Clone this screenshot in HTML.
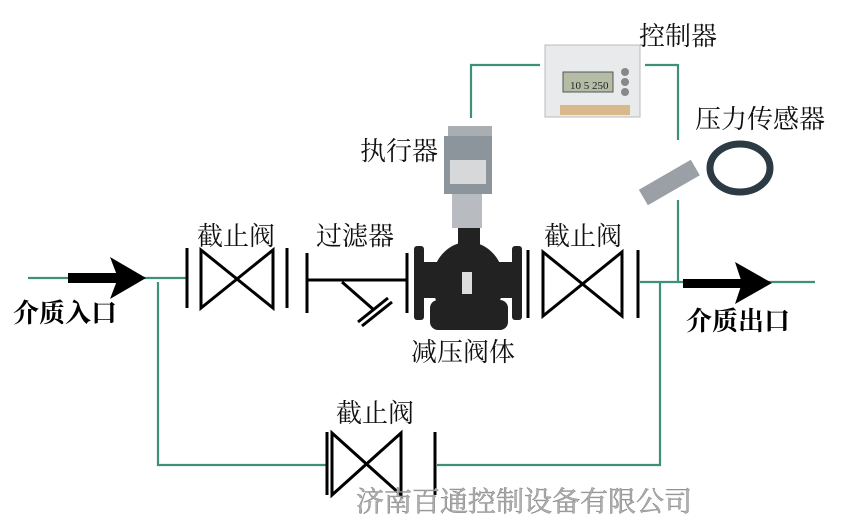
<!DOCTYPE html>
<html><head><meta charset="utf-8"><style>
body{margin:0;background:#fff;width:860px;height:524px;overflow:hidden}
svg text{font-family:"Liberation Serif","Noto Serif CJK SC",serif}
</style></head><body>
<svg width="860" height="524" viewBox="0 0 860 524" xmlns="http://www.w3.org/2000/svg">
<g stroke="#3f8f7a" stroke-width="2.2" fill="none">
<path d="M28 278 H187"/>
<path d="M158 282 V465 H327"/>
<path d="M437 465 H660 V282"/>
<path d="M640 282 H815"/>
<path d="M678 200 V282"/>
<path d="M678 140 V65 H645"/>
<path d="M471 118 V65 H540"/>
</g>
<rect x="68" y="273" width="50" height="10" fill="#000"/>
<polygon points="110,257 146,278 110,299 118,278" fill="#000"/>
<rect x="683" y="279" width="60" height="9" fill="#000"/>
<polygon points="735,262 772,283 735,304 742,283" fill="#000"/>
<g stroke="#000" stroke-width="3" fill="none">
<path d="M187 248 V308 M287 248 V308"/>
<path d="M201 250 L273 308 V250 L201 308 Z"/>
<path d="M307 253 V313 M407 253 V313 M307 280 H407 M342 282 L374 310"/>
<path d="M358 322 L388 298 M362 326 L392 302"/>
<path d="M528 250 V318 M638 250 V318"/>
<path d="M543 252 L622 316 V252 L543 316 Z"/>
<path d="M327 432 V495 M435 432 V495"/>
<path d="M332 433 L401 495 V433 L332 495 Z"/>
</g>
<g fill="#222">
<rect x="414" y="246" width="10" height="74" rx="3"/>
<rect x="512" y="246" width="10" height="74" rx="3"/>
<rect x="420" y="262" width="100" height="36"/>
<ellipse cx="468" cy="282" rx="36" ry="40"/>
<rect x="430" y="300" width="78" height="30" rx="8"/>
<rect x="458" y="228" width="22" height="20"/>
</g>
<rect x="462" y="272" width="10" height="22" fill="#ddd"/>
<rect x="448" y="126" width="44" height="12" fill="#a9aeb3"/>
<rect x="444" y="136" width="48" height="58" fill="#8c959c"/>
<rect x="450" y="160" width="36" height="24" fill="#d6d8da"/>
<rect x="452" y="194" width="30" height="34" fill="#b8bcc0"/>
<rect x="545" y="45" width="95" height="72" fill="#e9eaec" stroke="#bbb"/>
<rect x="563" y="72" width="50" height="20" fill="#b5bca6" stroke="#555"/>
<text x="570" y="89" font-size="11" fill="#222">10 5 250</text>
<rect x="560" y="105" width="70" height="10" fill="#d9b98c"/>
<circle cx="625" cy="72" r="4" fill="#888"/><circle cx="625" cy="82" r="4" fill="#888"/><circle cx="625" cy="92" r="4" fill="#888"/>
<g transform="rotate(-30 665 185)">
<rect x="640" y="176" width="60" height="18" fill="#9aa0a6"/>
</g>
<ellipse cx="740" cy="168" rx="30" ry="24" fill="none" stroke="#2c3a44" stroke-width="7"/>
<g font-size="26" fill="#111">
<text x="197" y="245">截止阀</text>
<text x="316" y="245">过滤器</text>
<text x="360" y="160">执行器</text>
<text x="639" y="45">控制器</text>
<text x="695" y="128">压力传感器</text>
<text x="544" y="245">截止阀</text>
<text x="411" y="361">减压阀体</text>
<text x="336" y="422">截止阀</text>
</g>
<g font-size="26" font-weight="bold" fill="#000" style="font-family:'Liberation Sans','Noto Sans CJK SC',sans-serif">
<text x="13" y="322">介质入口</text>
<text x="686" y="330">介质出口</text>
</g>
<text x="356" y="511" font-size="28" fill="#b0b0b0" stroke="#888" stroke-width="0.5">济南百通控制设备有限公司</text>
</svg>
</body></html>
